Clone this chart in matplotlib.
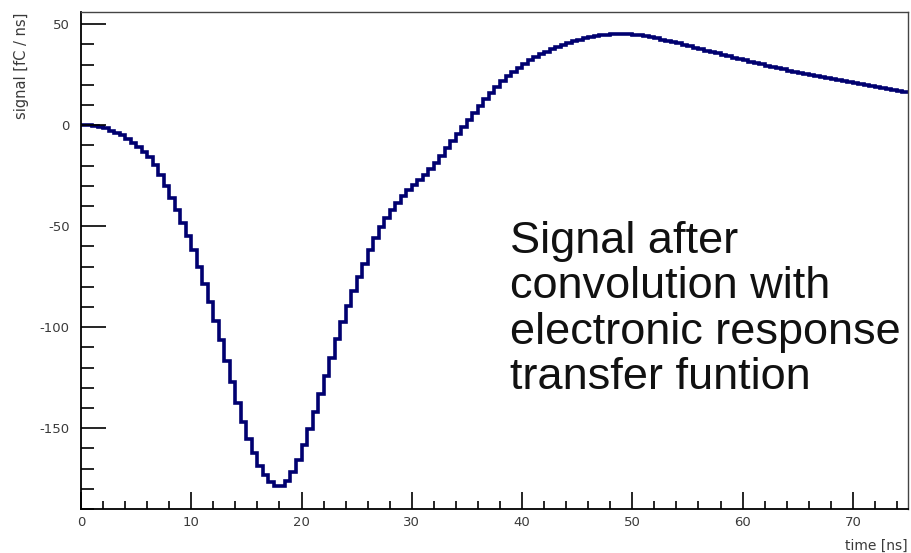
import numpy as np
import matplotlib
matplotlib.use("Agg")
import matplotlib.pyplot as plt
from matplotlib.ticker import MultipleLocator

# histogram: 0.5 ns bins from 0 to 75 ns
bin_edges = np.arange(0, 75.5, 0.5)
signal = [
    0, 0, -0.3, -0.8, -1.5, -2.6, -3.8, -5, -6.8, -8.6,
    -10.8, -13, -15.8, -19.5, -24.5, -30, -36, -42, -48.5, -55,
    -62, -70, -78.5, -87.5, -97, -106.5, -116.5, -127, -137.5, -147,
    -155.5, -162.5, -168.5, -173, -176.5, -178.5, -178.5, -176, -171.5, -165.5,
    -158.5, -150.5, -142, -133, -124, -115, -106, -97.5, -89.5, -82,
    -75, -68.5, -62, -56, -50.5, -46, -42, -38.5, -35, -32,
    -29.5, -27, -24.5, -21.5, -18.5, -15, -11.5, -8, -4.5, -1,
    2.5, 6, 9.5, 13, 16, 19, 21.8, 24.3, 26.5, 28.5,
    30.5, 32.3, 33.8, 35.2, 36.5, 37.7, 38.8, 39.8, 40.7, 41.5,
    42.3, 43, 43.6, 44.1, 44.5, 44.8, 45, 45.1, 45.1, 45,
    44.8, 44.5, 44.1, 43.6, 43, 42.4, 41.8, 41.1, 40.5, 39.8,
    39.1, 38.4, 37.7, 37, 36.3, 35.6, 34.9, 34.2, 33.5, 32.8,
    32.1, 31.4, 30.8, 30.1, 29.5, 28.9, 28.3, 27.7, 27.1, 26.5,
    26, 25.4, 24.9, 24.3, 23.8, 23.3, 22.8, 22.3, 21.8, 21.3,
    20.8, 20.3, 19.8, 19.3, 18.9, 18.4, 17.9, 17.4, 17, 16.5,
]

plt.rcParams['font.family'] = ['DejaVu Sans']
plt.rcParams['axes.unicode_minus'] = False

fig = plt.figure(figsize=(9.12, 5.53), dpi=100)
ax = fig.add_axes([0.0888, 0.0796, 0.9068, 0.8984])

ax.stairs(signal, bin_edges, baseline=None, color='#000070', linewidth=2.6)

ax.set_xlim(0, 75)
ax.set_ylim(-190, 56)

ax.xaxis.set_major_locator(MultipleLocator(10))
ax.xaxis.set_minor_locator(MultipleLocator(2))
ax.yaxis.set_major_locator(MultipleLocator(50))
ax.yaxis.set_minor_locator(MultipleLocator(10))

ax.tick_params(axis='both', which='both', direction='in', top=False, right=False,
               labelsize=9.5, labelcolor='#3a3a3a', width=1.2)
ax.tick_params(axis='y', which='major', length=18, pad=8)
ax.tick_params(axis='y', which='minor', length=9)
ax.tick_params(axis='x', which='major', length=12, pad=5)
ax.tick_params(axis='x', which='minor', length=6)

for side in ['left', 'bottom']:
    ax.spines[side].set_linewidth(1.3)
for side in ['top', 'right']:
    ax.spines[side].set_linewidth(1.0)
    ax.spines[side].set_color('#444444')

ax.set_xlabel('time [ns]', fontsize=10, color='#3a3a3a', loc='right', labelpad=7)
ax.set_ylabel('signal [fC / ns]', fontsize=10.5, color='#3a3a3a', loc='top', labelpad=8)

ax.text(0.519, 0.58, 'Signal after\nconvolution with\nelectronic response\ntransfer funtion',
        transform=ax.transAxes, fontsize=32.5, color='#111111', va='top', ha='left',
        family='Liberation Sans', linespacing=1.14)

fig.savefig('out.png', dpi=100)
